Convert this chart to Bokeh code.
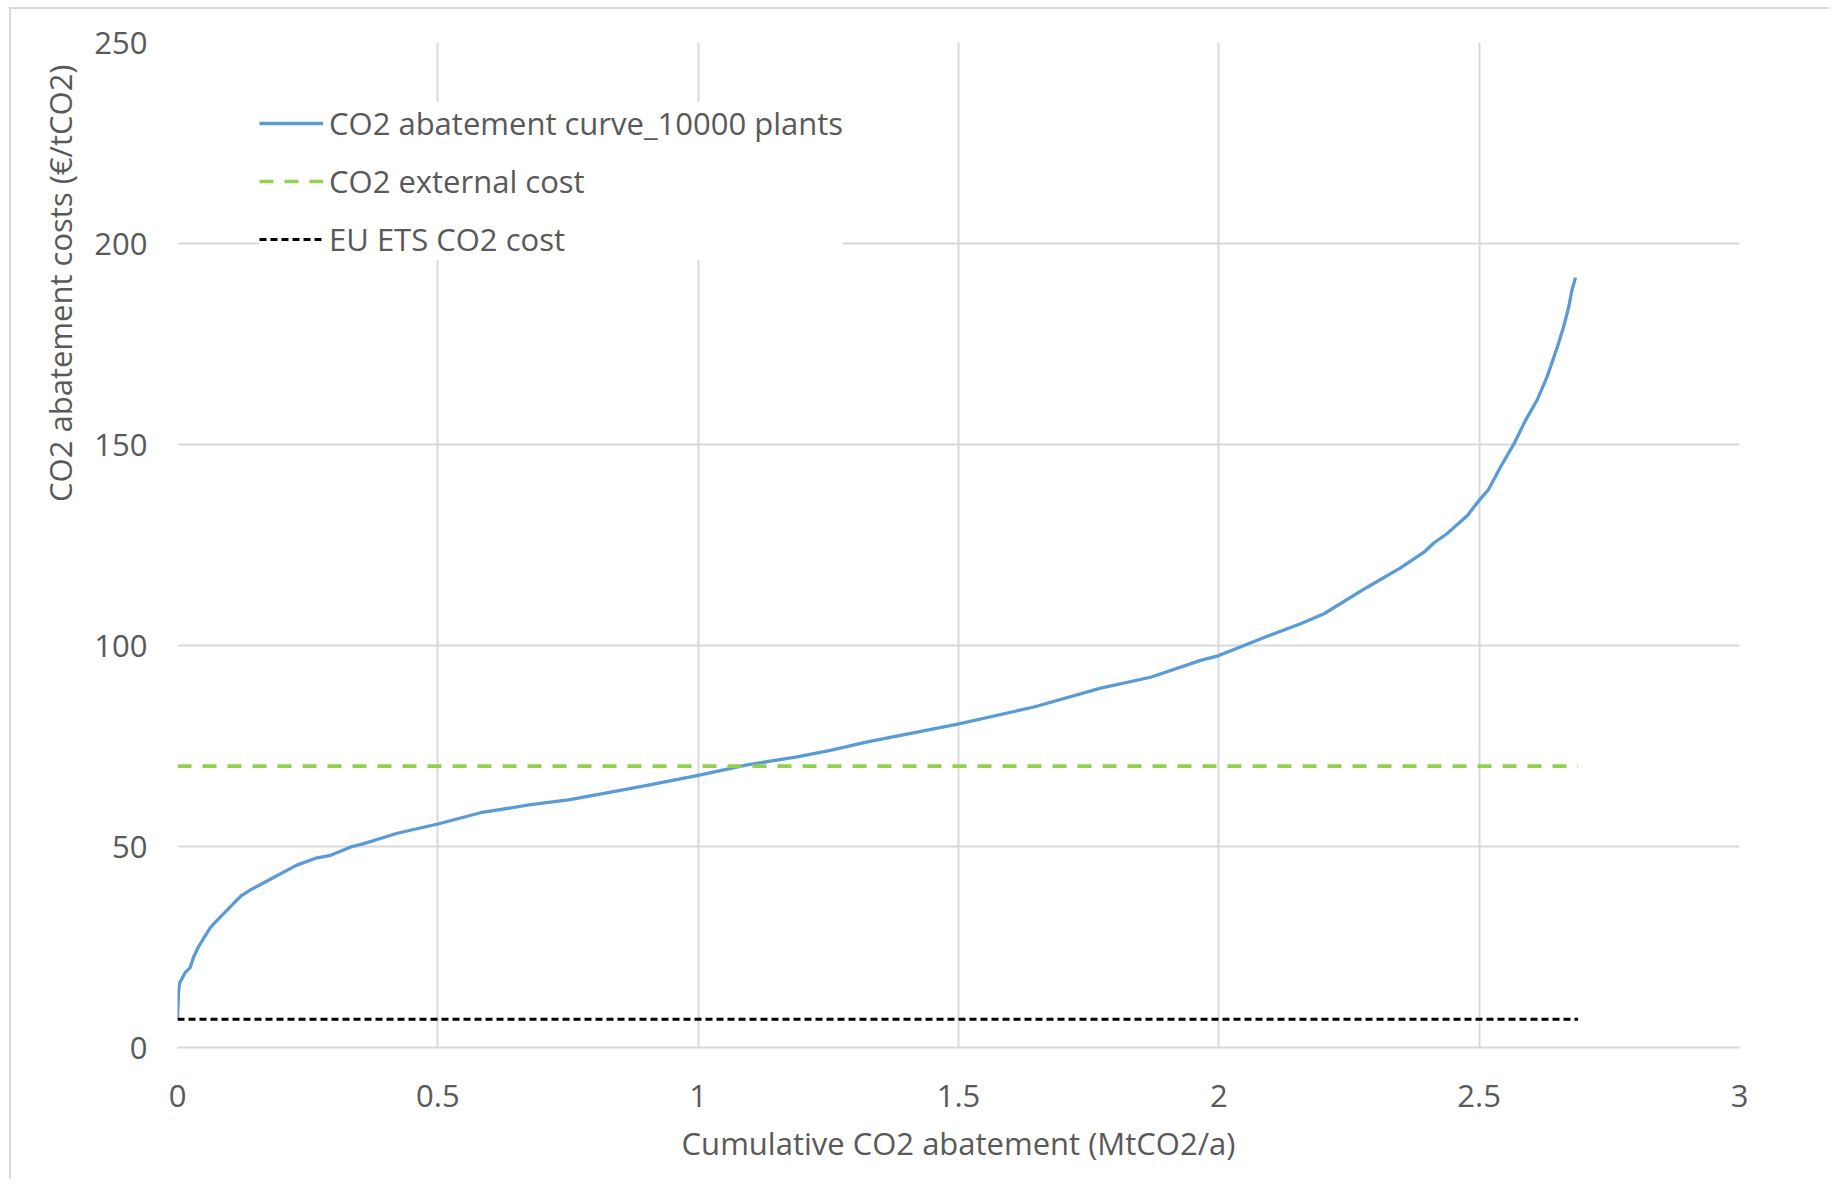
from bokeh.plotting import figure
from bokeh.models import FixedTicker, Legend, LegendItem, Range1d
from bokeh.embed import file_html
from bokeh.resources import INLINE

# ---- data ----
cum_abatement = [0, 0.002, 0.004, 0.015, 0.024, 0.031, 0.040, 0.063, 0.076, 0.115,
                 0.123, 0.140, 0.156, 0.172, 0.228, 0.268, 0.294, 0.333, 0.358, 0.422,
                 0.500, 0.582, 0.678, 0.751, 0.806, 0.902, 1.000, 1.094, 1.190, 1.254,
                 1.325, 1.501, 1.645, 1.773, 1.869, 1.965, 2.000, 2.093, 2.157, 2.202,
                 2.285, 2.349, 2.394, 2.413, 2.438, 2.477, 2.500, 2.518, 2.541, 2.567,
                 2.589, 2.611, 2.630, 2.650, 2.662, 2.672, 2.678, 2.685]
abatement_cost = [7.0, 14.0, 16.0, 18.7, 19.8, 22.5, 25.0, 29.8, 31.6, 36.8,
                  37.8, 39.2, 40.3, 41.4, 45.3, 47.2, 47.8, 49.9, 50.7, 53.3,
                  55.6, 58.4, 60.4, 61.6, 62.9, 65.2, 67.7, 70.3, 72.3, 73.9,
                  76.0, 80.5, 84.7, 89.4, 92.1, 96.3, 97.5, 102.3, 105.4, 107.9,
                  114.5, 119.3, 123.2, 125.5, 127.8, 132.3, 136.1, 138.8, 144.4, 150.2,
                  156.0, 161.0, 166.7, 174.2, 179.2, 184.2, 188.3, 191.5]
line_x = [0, 2.69]
external_cost = [70, 70]
ets_cost = [7, 7]

x_ticks = [0, 0.5, 1, 1.5, 2, 2.5, 3]
x_tick_labels = ["0", "0.5", "1", "1.5", "2", "2.5", "3"]
y_ticks = [0, 50, 100, 150, 200, 250]

series_names = ["CO2 abatement curve_10000 plants", "CO2 external cost", "EU ETS CO2 cost"]
x_title = "Cumulative CO2 abatement (MtCO2/a)"
y_title = "CO2 abatement costs (€/tCO2)"

FONT = "Open Sans"
TXT = "#595959"
GRID = "#d9d9d9"

p = figure(width=1820, height=1172, output_backend="svg", toolbar_location=None,
           x_range=Range1d(0, 3), y_range=Range1d(0, 250),
           min_border_left=166, min_border_right=92, min_border_top=33, min_border_bottom=134,
           background_fill_color="white", border_fill_color="white",
           title=y_title, title_location="left",
           styles={"border-left": "2px solid #d9d9d9", "border-top": "2px solid #d9d9d9",
                   "margin-left": "9px", "margin-top": "7px"})
p.outline_line_color = None

# y-axis title sits high on the left side, as in the original
p.title.align = "right"
p.title.offset = 22
p.title.standoff = 22
p.title.text_font = FONT
p.title.text_font_size = "31px"
p.title.text_font_style = "normal"
p.title.text_color = TXT

r_curve = p.line(cum_abatement, abatement_cost, line_color="#5B9BD5", line_width=3.3)
r_ext = p.line(line_x, external_cost, line_color="#92D050", line_width=3.6, line_dash="14 11")
r_ets = p.line(line_x, ets_cost, line_color="#000000", line_width=3, line_dash="7 4")

p.xaxis.ticker = FixedTicker(ticks=x_ticks)
p.xaxis.major_label_overrides = {t: l for t, l in zip(x_ticks, x_tick_labels)}
p.yaxis.ticker = FixedTicker(ticks=y_ticks)

for ax in (p.xaxis[0], p.yaxis[0]):
    ax.major_tick_line_color = None
    ax.minor_tick_line_color = None
    ax.major_tick_out = 0
    ax.major_tick_in = 0
    ax.major_label_text_font = FONT
    ax.major_label_text_font_size = "31px"
    ax.major_label_text_color = TXT
    ax.axis_label_text_font = FONT
    ax.axis_label_text_font_size = "31px"
    ax.axis_label_text_color = TXT
    ax.axis_label_text_font_style = "normal"

p.xaxis.axis_line_color = GRID
p.xaxis.axis_line_width = 2
p.yaxis.axis_line_color = None
p.xaxis.major_label_standoff = 37
p.yaxis.major_label_standoff = 30
p.xaxis.axis_label = x_title
p.xaxis.axis_label_standoff = 12

p.xgrid.grid_line_color = GRID
p.ygrid.grid_line_color = GRID
p.xgrid.grid_line_width = 2
p.ygrid.grid_line_width = 2

legend = Legend(items=[LegendItem(label=series_names[0], renderers=[r_curve]),
                       LegendItem(label=series_names[1], renderers=[r_ext]),
                       LegendItem(label=series_names[2], renderers=[r_ets])],
                location=(82, 787), orientation="vertical",
                background_fill_color="white", background_fill_alpha=1.0,
                border_line_color=None, padding=12, spacing=16,
                glyph_width=64, glyph_height=40, label_height=40, label_standoff=6,
                label_text_font=FONT, label_text_font_size="31px", label_text_color=TXT,
                margin=0)
p.add_layout(legend, "center")

open("out.html", "w").write(file_html(p, INLINE))
